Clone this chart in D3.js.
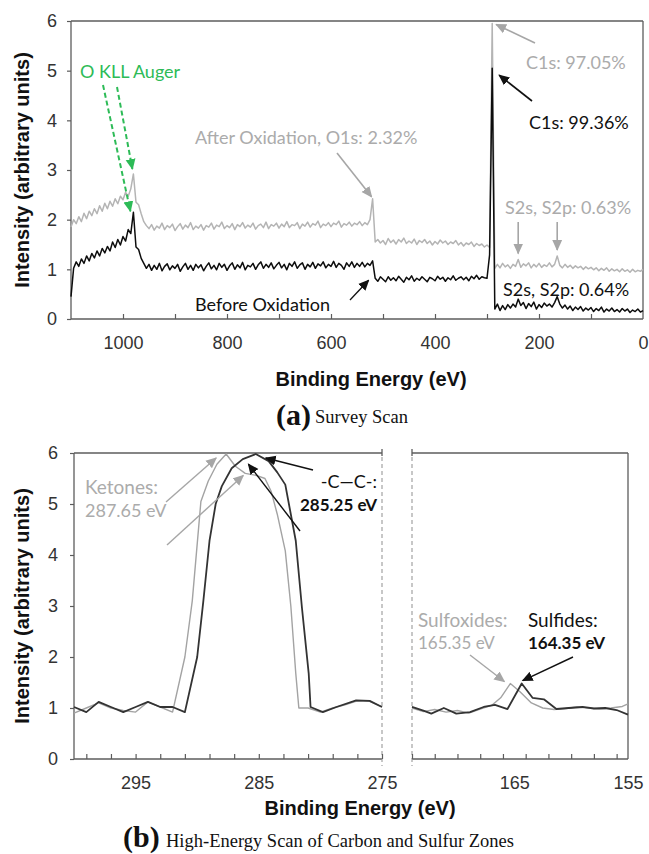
<!DOCTYPE html>
<html>
<head>
<meta charset="utf-8">
<script src="https://cdn.jsdelivr.net/npm/d3@7"></script>
<style>
  body { margin: 0; background: #fff; }
  svg { display: block; }
</style>
</head>
<body>
<svg id="chart" width="649" height="854"></svg>
<script>
// ---------- (a) survey scan ----------
// binding energy grid, 5 eV steps from 1100 down to 0
const surveyEnergy = d3.range(1100, -1, -5);

// intensity before oxidation (black)
const beforeSurvey = [
  0.45, 1.02, 1.15, 1.06, 1.21, 1.12, 1.27, 1.17, 1.32, 1.23,
  1.37, 1.27, 1.42, 1.33, 1.46, 1.37, 1.55, 1.44, 1.60, 1.49,
  1.66, 1.57, 1.80, 1.72, 2.15, 1.45, 1.40, 1.22, 1.12, 1.02,
  1.10, 0.98, 1.08, 1.00, 1.12, 0.97, 1.06, 1.11, 0.99, 1.07,
  1.02, 1.10, 0.96, 1.05, 1.12, 1.00, 1.08, 0.98, 1.10, 1.03,
  1.09, 0.97, 1.06, 1.13, 1.01, 1.08, 0.99, 1.12, 1.04, 1.10,
  0.98, 1.07, 1.13, 1.00, 1.09, 1.03, 1.14, 0.99, 1.08, 1.05,
  1.12, 1.00, 1.09, 1.15, 1.02, 1.10, 1.04, 1.13, 1.01, 1.08,
  1.14, 1.03, 1.10, 0.99, 1.12, 1.06, 1.15, 1.02, 1.09, 1.13,
  1.00, 1.10, 1.05, 1.14, 1.02, 1.11, 1.07, 1.15, 1.03, 1.10,
  1.06, 1.16, 1.04, 1.12, 1.08, 1.00, 1.13, 1.06, 1.15, 1.04,
  1.12, 1.06, 1.14, 1.05, 1.12, 1.08, 1.17, 0.82, 0.76, 0.85,
  0.80, 0.75, 0.85, 0.78, 0.83, 0.77, 0.86, 0.80, 0.74, 0.84,
  0.79, 0.87, 0.76, 0.82, 0.78, 0.85, 0.80, 0.75, 0.84, 0.81,
  0.77, 0.86, 0.80, 0.84, 0.76, 0.83, 0.79, 0.87, 0.78, 0.82,
  0.85, 0.79, 0.84, 0.77, 0.86, 0.81, 0.88, 0.80, 0.85, 0.83,
  0.82, 1.29, 5.05, 0.20, 0.30, 0.17, 0.27, 0.19, 0.29, 0.22,
  0.30, 0.24, 0.40, 0.27, 0.33, 0.21, 0.31, 0.25, 0.34, 0.20,
  0.29, 0.23, 0.32, 0.26, 0.30, 0.24, 0.33, 0.45, 0.30, 0.22,
  0.28, 0.20, 0.26, 0.17, 0.24, 0.19, 0.25, 0.16, 0.22, 0.18,
  0.23, 0.15, 0.21, 0.17, 0.24, 0.14, 0.20, 0.16, 0.22, 0.15,
  0.19, 0.14, 0.21, 0.16, 0.20, 0.13, 0.18, 0.15, 0.20, 0.14,
  0.17
];

// intensity after oxidation (grey)
const afterSurvey = [
  1.85, 2.00, 1.92, 2.06, 1.96, 2.13, 2.02, 2.17, 2.08, 2.22,
  2.12, 2.28, 2.17, 2.33, 2.22, 2.37, 2.27, 2.42, 2.32, 2.47,
  2.40, 2.55, 2.47, 2.62, 2.92, 2.35, 2.30, 2.12, 1.96, 1.88,
  1.82, 1.90, 1.79, 1.87, 1.83, 1.93, 1.80, 1.88, 1.84, 1.91,
  1.78, 1.86, 1.92, 1.81, 1.89, 1.84, 1.94, 1.80, 1.87, 1.83,
  1.90, 1.79, 1.88, 1.85, 1.93, 1.81, 1.89, 1.86, 1.95, 1.82,
  1.88, 1.84, 1.92, 1.80, 1.90, 1.86, 1.94, 1.83, 1.89, 1.85,
  1.93, 1.81, 1.88, 1.91, 1.84, 1.95, 1.82, 1.90, 1.87, 1.93,
  1.83, 1.91, 1.86, 1.96, 1.84, 1.90, 1.88, 1.94, 1.82, 1.91,
  1.87, 1.95, 1.85, 1.92, 1.89, 1.97, 1.84, 1.91, 1.88, 1.94,
  1.86, 1.93, 1.90, 1.97, 1.85, 1.92, 1.89, 1.95, 1.87, 1.93,
  1.90, 1.96, 1.88, 1.94, 1.90, 2.00, 2.42, 1.55, 1.60, 1.53,
  1.58, 1.50, 1.62, 1.54, 1.59, 1.51, 1.60, 1.55, 1.63, 1.52,
  1.57, 1.53, 1.61, 1.50, 1.58, 1.54, 1.60, 1.52, 1.57, 1.49,
  1.56, 1.51, 1.59, 1.53, 1.57, 1.50, 1.55, 1.52, 1.58, 1.49,
  1.54, 1.47, 1.53, 1.50, 1.55, 1.46, 1.52, 1.48, 1.51, 1.45,
  1.49, 1.44, 5.95, 1.02, 1.10, 1.03, 1.12, 1.05, 1.09, 1.02,
  1.10, 1.06, 1.20, 1.04, 1.11, 1.07, 1.13, 1.03, 1.10, 1.05,
  1.12, 1.04, 1.09, 1.06, 1.13, 1.05, 1.10, 1.27, 1.08, 1.03,
  1.10, 1.04, 1.08, 1.02, 1.07, 1.03, 1.06, 1.00, 1.05, 1.01,
  1.04, 0.99, 1.03, 0.97, 1.02, 0.98, 1.03, 0.96, 1.01, 0.97,
  1.00, 0.95, 1.01, 0.96, 0.99, 0.94, 1.00, 0.95, 0.98, 0.96,
  1.00
];

const surveyTicks = [1000, 800, 600, 400, 200, 0];
const surveyMinorTicks = [1000, 900, 800, 700, 600, 500, 400, 300, 200, 100];
const intensityTicks = [0, 1, 2, 3, 4, 5, 6];

// ---------- (b) carbon zone (300-275 eV) ----------
const carbonEnergyAfter = [300, 299, 298, 297, 296, 295, 294, 293, 292, 291, 290.4, 289.7, 289.1, 288.4, 287.65, 286.9, 286.1, 285.2, 284.5, 284, 283.5, 282.85, 282.4, 282, 281.75, 281, 280, 279, 278, 277, 276, 275];
const carbonAfter       = [0.9, 1.0, 1.1, 1.0, 0.95, 0.92, 1.12, 1.02, 0.92, 2.0, 3.1, 5.05, 5.45, 5.78, 5.98, 5.74, 5.6, 5.56, 5.5, 5.25, 4.8, 4.08, 3.0, 1.68, 1.0, 1.0, 0.92, 1.0, 1.06, 1.14, 1.13, 1.02];
const carbonEnergyBefore = [300, 299, 298, 297, 296, 295, 294, 293, 292, 291, 290, 289.5, 289, 288.5, 288, 287.2, 286.3, 285.25, 284.2, 283.5, 282.85, 282, 281.5, 280.95, 280.8, 279.8, 278.7, 277.1, 276, 275];
const carbonBefore       = [1.02, 0.92, 1.12, 1.02, 0.92, 1.02, 1.12, 1.02, 1.02, 0.92, 2.0, 3.1, 4.28, 5.0, 5.35, 5.7, 5.88, 5.98, 5.84, 5.62, 5.38, 4.28, 2.97, 1.68, 1.02, 0.92, 1.02, 1.15, 1.14, 1.02];

// ---------- (b) sulfur zone (174-155 eV) ----------
const sulfurEnergyAfter = [174, 173, 172, 171, 170, 169, 168, 167, 166.2, 165.35, 164.5, 163.5, 162.5, 161.5, 160.5, 159.5, 158.5, 157.5, 156.5, 155.5, 155];
const sulfurAfter       = [1.0, 0.93, 0.97, 0.92, 0.95, 0.9, 0.98, 1.05, 1.2, 1.48, 1.32, 1.1, 1.0, 0.97, 0.99, 1.02, 1.0, 0.98, 1.0, 1.03, 1.08];
const sulfurEnergyBefore = [174, 173, 172.3, 171.2, 170.1, 168.9, 167.7, 166.7, 165.6, 164.35, 163.4, 162.4, 161.3, 160.2, 159, 158, 157, 156, 155];
const sulfurBefore       = [1.02, 0.95, 0.89, 1.0, 0.89, 0.92, 1.02, 1.06, 0.98, 1.48, 1.2, 1.17, 0.98, 1.0, 1.02, 0.99, 1.0, 0.96, 0.87];

const carbonTicks = [295, 285, 275];
const carbonMinorTicks = [299, 297, 295, 293, 291, 289, 287, 285, 283, 281, 279, 277, 275];
const sulfurTicks = [165, 155];
const sulfurMinorTicks = [174, 172, 170, 168, 166, 164, 162, 160, 158, 156];

// ---------- styling ----------
const axisColor = "#5c5c5c";
const greyText = "#ababab";
const sansFont = "'Liberation Sans', Arial, sans-serif";
const noteFont = "Lato, 'Open Sans', sans-serif";
const serifFont = "'Liberation Serif', 'Times New Roman', serif";

const svg = d3.select("#chart");

const defs = svg.append("defs");
function arrowMarker(id, color, size) {
  defs.append("marker")
    .attr("id", id)
    .attr("viewBox", "0 0 10 10")
    .attr("refX", 9).attr("refY", 5)
    .attr("markerUnits", "userSpaceOnUse")
    .attr("markerWidth", size).attr("markerHeight", size)
    .attr("orient", "auto")
    .append("path").attr("d", "M0,0.5 L10,5 L0,9.5 Z").attr("fill", color);
}
arrowMarker("headGreen", "#2dbb57", 11);
arrowMarker("headGrey", "#a6a6a6", 11);
arrowMarker("headBlack", "#111", 11);

function arrow(x1, y1, x2, y2, color, marker, dash, width) {
  svg.append("line")
    .attr("x1", x1).attr("y1", y1).attr("x2", x2).attr("y2", y2)
    .attr("stroke", color).attr("stroke-width", width || 1.6)
    .attr("stroke-dasharray", dash || null)
    .attr("marker-end", `url(#${marker})`);
}

function note(x, y, text, opts = {}) {
  svg.append("text")
    .attr("x", x).attr("y", y)
    .attr("text-anchor", opts.anchor || "start")
    .attr("font-family", opts.font || noteFont)
    .attr("font-size", opts.size || 18)
    .attr("font-weight", opts.weight || "normal")
    .attr("fill", opts.color || "#111")
    .text(text);
}

function frameLine(x1, y1, x2, y2, dash) {
  svg.append("line")
    .attr("x1", x1).attr("y1", y1).attr("x2", x2).attr("y2", y2)
    .attr("stroke", dash ? "#9a9a9a" : axisColor)
    .attr("stroke-width", dash ? 1.1 : 1.3)
    .attr("stroke-dasharray", dash ? "4,3" : null);
}

function styleAxis(g, size) {
  g.select(".domain").remove();
  g.selectAll(".tick line").attr("stroke", axisColor).attr("stroke-width", 1.2);
  g.selectAll(".tick text")
    .attr("font-family", sansFont)
    .attr("font-size", size || 18)
    .attr("fill", "#333");
}

// ================= (a) survey scan =================
const xTop = d3.scaleLinear().domain([1100, 0]).range([71, 643]);
const yTop = d3.scaleLinear().domain([0, 6]).range([319, 21]);

// frame
frameLine(xTop.range()[0], yTop.range()[1], xTop.range()[1], yTop.range()[1]);
frameLine(xTop.range()[1], yTop.range()[1], xTop.range()[1], yTop.range()[0]);
frameLine(xTop.range()[0], yTop.range()[0], xTop.range()[1], yTop.range()[0]);
frameLine(xTop.range()[0], yTop.range()[1], xTop.range()[0], yTop.range()[0]);

svg.append("g").attr("transform", `translate(${xTop.range()[0]},0)`)
  .call(d3.axisLeft(yTop).tickValues(intensityTicks).tickFormat(d3.format("d")).tickSize(4).tickPadding(10))
  .call(g => styleAxis(g));

svg.append("g").attr("transform", `translate(0,${yTop.range()[0]})`)
  .call(d3.axisBottom(xTop).tickValues(surveyMinorTicks).tickSize(-5).tickFormat(""))
  .call(g => styleAxis(g));

svg.append("g").attr("transform", `translate(0,${yTop.range()[0]})`)
  .call(d3.axisBottom(xTop).tickValues(surveyTicks).tickFormat(d3.format("d")).tickSize(0).tickPadding(17))
  .call(g => styleAxis(g));

const surveyLine = d3.line().x((d, i) => xTop(surveyEnergy[i])).y(d => yTop(d));
svg.append("path").datum(afterSurvey)
  .attr("d", surveyLine).attr("fill", "none")
  .attr("stroke", "#b4b4b4").attr("stroke-width", 1.5).attr("stroke-linejoin", "round");
svg.append("path").datum(beforeSurvey)
  .attr("d", surveyLine).attr("fill", "none")
  .attr("stroke", "#0d0d0d").attr("stroke-width", 1.5).attr("stroke-linejoin", "round");

// axis titles
svg.append("text")
  .attr("transform", "translate(29,170) rotate(-90)")
  .attr("text-anchor", "middle")
  .attr("font-family", sansFont).attr("font-size", 20).attr("font-weight", "bold")
  .attr("fill", "#111")
  .text("Intensity (arbitrary units)");
note(371, 386, "Binding Energy (eV)", { anchor: "middle", font: sansFont, size: 20, weight: "bold" });

// annotations
note(80, 78, "O KLL Auger", { color: "#2dbb57" });
arrow(117, 87, xTop(980) - 1, yTop(afterSurvey[24]) - 5, "#2dbb57", "headGreen", "5,3", 2);
arrow(103, 85, xTop(980) - 3, yTop(beforeSurvey[24]) - 1, "#2dbb57", "headGreen", "5,3", 2);

note(195, 144, "After Oxidation, O1s: 2.32%", { color: greyText });
arrow(337, 153, xTop(520) - 1, yTop(afterSurvey[116]) - 2, "#a6a6a6", "headGrey");

note(526, 69, "C1s: 97.05%", { color: greyText });
arrow(535, 43, xTop(290) + 4, yTop(afterSurvey[162]) + 1, "#a6a6a6", "headGrey");

note(529, 129, "C1s: 99.36%", { color: "#111" });
arrow(532, 101, xTop(290) + 7, yTop(beforeSurvey[162]) + 7, "#111", "headBlack");

note(505, 214, "S2s, S2p: 0.63%", { color: greyText });
arrow(xTop(240), 222, xTop(240), yTop(afterSurvey[172]) - 6, "#a6a6a6", "headGrey");
arrow(xTop(165), 222, xTop(165), yTop(afterSurvey[187]) - 6, "#a6a6a6", "headGrey");

note(503, 296, "S2s, S2p: 0.64%", { color: "#111" });

note(195, 311, "Before Oxidation", { color: "#111" });
arrow(350, 300, xTop(520) - 4, yTop(beforeSurvey[117]) + 2, "#111", "headBlack", null, 1.3);

// caption (a)
note(276, 425, "(a)", { font: serifFont, size: 30, weight: "bold" });
note(315, 423, "Survey Scan", { font: serifFont, size: 18.5 });

// ================= (b) high-energy scan =================
const yBot = d3.scaleLinear().domain([0, 6]).range([759, 453]);
const xL = d3.scaleLinear().domain([300, 275]).range([74, 382]);
const xR = d3.scaleLinear().domain([174, 155]).range([412, 628]);

// frame pieces
frameLine(xL.range()[0], yBot.range()[1], xL.range()[1], yBot.range()[1]);
frameLine(xL.range()[1], yBot.range()[1] - 4, xL.range()[1], yBot.range()[1] + 3);
frameLine(xR.range()[0], yBot.range()[1], xR.range()[1], yBot.range()[1]);
frameLine(xR.range()[0], yBot.range()[1] - 4, xR.range()[0], yBot.range()[1] + 3);
frameLine(xR.range()[1], yBot.range()[1], xR.range()[1], yBot.range()[0]);
frameLine(xL.range()[0], yBot.range()[0], xL.range()[1], yBot.range()[0]);
frameLine(xR.range()[0], yBot.range()[0], xR.range()[1], yBot.range()[0]);
frameLine(xL.range()[0], yBot.range()[1], xL.range()[0], yBot.range()[0]);
// axis break
frameLine(xL.range()[1], yBot.range()[1] + 4, xL.range()[1], yBot.range()[0] + 7, true);
frameLine(xR.range()[0], yBot.range()[1] + 4, xR.range()[0], yBot.range()[0] + 7, true);

svg.append("g").attr("transform", `translate(${xL.range()[0]},0)`)
  .call(d3.axisLeft(yBot).tickValues(intensityTicks).tickFormat(d3.format("d")).tickSize(4).tickPadding(12))
  .call(g => styleAxis(g));

svg.append("g").attr("transform", `translate(0,${yBot.range()[0]})`)
  .call(d3.axisBottom(xL).tickValues(carbonMinorTicks).tickSize(-5).tickFormat(""))
  .call(g => styleAxis(g));
svg.append("g").attr("transform", `translate(0,${yBot.range()[0]})`)
  .call(d3.axisBottom(xR).tickValues(sulfurMinorTicks).tickSize(-5).tickFormat(""))
  .call(g => styleAxis(g));
svg.append("g").attr("transform", `translate(0,${yBot.range()[0]})`)
  .call(d3.axisBottom(xL).tickValues(carbonTicks).tickFormat(d3.format("d")).tickSize(0).tickPadding(17))
  .call(g => styleAxis(g));
svg.append("g").attr("transform", `translate(0,${yBot.range()[0]})`)
  .call(d3.axisBottom(xR).tickValues(sulfurTicks).tickFormat(d3.format("d")).tickSize(0).tickPadding(17))
  .call(g => styleAxis(g));

const carbonAfterLine = d3.line().x((d, i) => xL(carbonEnergyAfter[i])).y(d => yBot(d));
const carbonBeforeLine = d3.line().x((d, i) => xL(carbonEnergyBefore[i])).y(d => yBot(d));
const sulfurAfterLine = d3.line().x((d, i) => xR(sulfurEnergyAfter[i])).y(d => yBot(d));
const sulfurBeforeLine = d3.line().x((d, i) => xR(sulfurEnergyBefore[i])).y(d => yBot(d));

[[carbonAfter, carbonAfterLine], [sulfurAfter, sulfurAfterLine]].forEach(([d, gen]) => {
  svg.append("path").datum(d).attr("d", gen).attr("fill", "none")
    .attr("stroke", "#a3a3a3").attr("stroke-width", 1.4).attr("stroke-linejoin", "round");
});
[[carbonBefore, carbonBeforeLine], [sulfurBefore, sulfurBeforeLine]].forEach(([d, gen]) => {
  svg.append("path").datum(d).attr("d", gen).attr("fill", "none")
    .attr("stroke", "#333").attr("stroke-width", 1.8).attr("stroke-linejoin", "round");
});

// axis titles
svg.append("text")
  .attr("transform", "translate(29,606) rotate(-90)")
  .attr("text-anchor", "middle")
  .attr("font-family", sansFont).attr("font-size", 20).attr("font-weight", "bold")
  .attr("fill", "#111")
  .text("Intensity (arbitrary units)");
note(360, 815, "Binding Energy (eV)", { anchor: "middle", font: sansFont, size: 20, weight: "bold" });

// peak annotations
note(85, 494, "Ketones:", { color: greyText, size: 19 });
note(85, 517, "287.65 eV", { color: greyText, size: 18 });
arrow(166, 502, xL(287.65) - 10, yBot(5.98) + 4, "#a6a6a6", "headGrey", null, 1.4);
arrow(167, 545, xL(286.1) - 2, yBot(5.6) + 2, "#a6a6a6", "headGrey", null, 1.4);

note(377, 488, "-C\u2014C-:", { anchor: "end", size: 18 });
note(377, 511, "285.25 eV", { anchor: "end", size: 17, weight: "bold" });
arrow(313, 470, xL(284.6) + 2, yBot(5.98) + 4, "#111", "headBlack", null, 1.4);
arrow(300, 531, xL(285.6) - 3, yBot(5.9) + 6, "#111", "headBlack", null, 1.4);

note(418, 627, "Sulfoxides:", { color: greyText, size: 19 });
note(418, 649, "165.35 eV", { color: greyText, size: 17 });
arrow(470, 655, xR(165.35) - 6, yBot(1.48) - 2, "#a6a6a6", "headGrey", null, 1.4);

note(528, 627, "Sulfides:", { size: 19 });
note(528, 649, "164.35 eV", { size: 17, weight: "bold" });
arrow(573, 657, xR(164.35) + 1, yBot(1.48) - 3, "#111", "headBlack", null, 1.4);

// caption (b)
note(123, 847, "(b)", { font: serifFont, size: 30, weight: "bold" });
note(166, 847, "High-Energy Scan of Carbon and Sulfur Zones", { font: serifFont, size: 18.5 });
</script>
</body>
</html>
